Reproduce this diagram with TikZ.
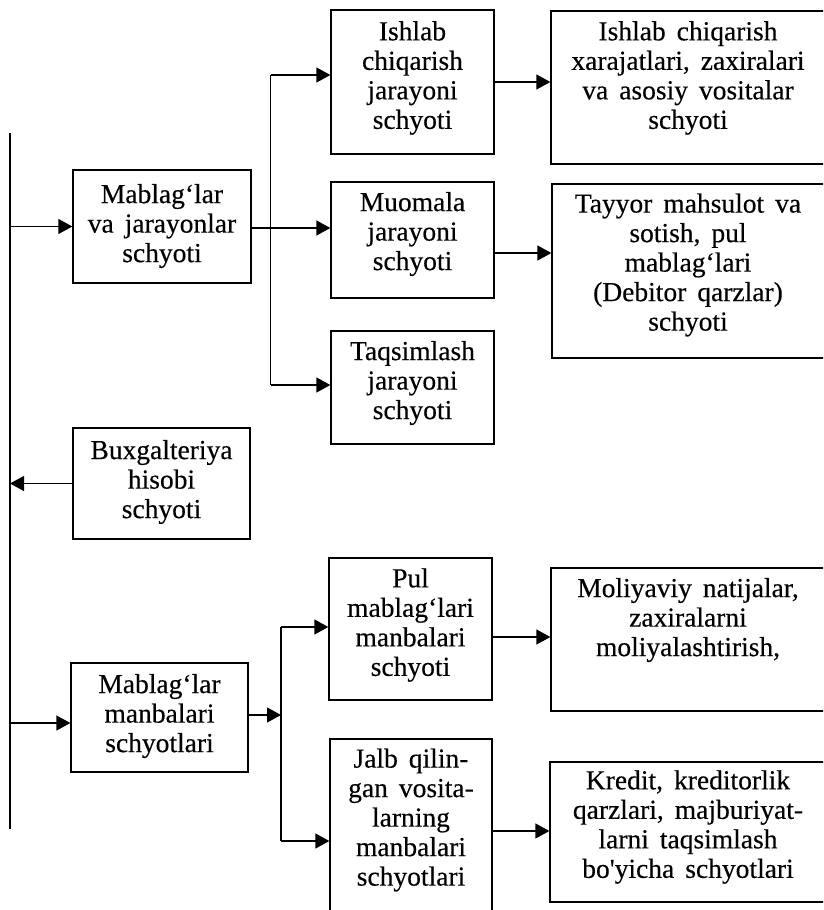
\documentclass[tikz,border=0pt]{standalone}
\usepackage{fontspec}
\setmainfont{Liberation Serif}[WordSpace=1.6,FakeBold=0.35]
\usetikzlibrary{arrows.meta}
\begin{document}
\begin{tikzpicture}[x=1pt,y=-1pt,
  line width=1.3pt,
  box/.style={draw, rectangle, inner sep=0pt},
  txt/.style={align=center, inner sep=0pt, font=\fontsize{27.5}{29.5}\selectfont},
  arr/.style={-{Triangle[length=14pt,width=15pt]}}]
\useasboundingbox (0,0) rectangle (823,910);
\clip (0,0) rectangle (823,910);

% boxes
\node[box, minimum width=178pt, minimum height=113pt] (a)  at (162,226.5) {};
\node[box, minimum width=163pt, minimum height=144pt] (b1) at (412.5,82) {};
\node[box, minimum width=275pt, minimum height=153pt] (c1) at (688.5,87.5) {};
\node[box, minimum width=163pt, minimum height=116pt] (b2) at (412.5,240) {};
\node[box, minimum width=274pt, minimum height=174pt] (c2) at (689,271) {};
\node[box, minimum width=163pt, minimum height=113pt] (b3) at (412.5,387.5) {};
\node[box, minimum width=177pt, minimum height=111pt] (d)  at (161.5,483.5) {};
\node[box, minimum width=177pt, minimum height=109pt] (e)  at (159.5,717.5) {};
\node[box, minimum width=163pt, minimum height=142pt] (f1) at (410.5,629) {};
\node[box, minimum width=275pt, minimum height=143pt] (g1) at (688.5,639.5) {};
\node[box, minimum width=162pt, minimum height=186pt] (f2) at (411,832) {};
\node[box, minimum width=276pt, minimum height=140pt] (g2) at (688,832) {};

% texts
\node[txt] (at)  at (162,226)  {Mablag‘lar\\va jarayonlar\\schyoti};
\node[txt] (b1t) at (412.5,78) {Ishlab\\chiqarish\\jarayoni\\schyoti};
\node[txt] (c1t) at (688,78)   {Ishlab chiqarish\\xarajatlari, zaxiralari\\va asosiy vositalar\\schyoti};
\node[txt] (b2t) at (412.5,234) {Muomala\\jarayoni\\schyoti};
\node[txt] (c2t) at (688,265)  {Tayyor mahsulot va\\sotish, pul\\mablag‘lari\\(Debitor qarzlar)\\schyoti};
\node[txt] (b3t) at (412.5,383) {Taqsimlash\\jarayoni\\schyoti};
\node[txt] (dt)  at (161.5,482) {Buxgalteriya\\hisobi\\schyoti};
\node[txt] (et)  at (159.5,716) {Mablag‘lar\\manbalari\\schyotlari};
\node[txt] (f1t) at (410.5,625) {Pul\\mablag‘lari\\manbalari\\schyoti};
\node[txt] (g1t) at (688,620)  {Moliyaviy natijalar,\\zaxiralarni\\moliyalashtirish,};
\node[txt] (f2t) at (411,820)  {Jalb qilin-\\gan vosita-\\larning\\manbalari\\schyotlari};
\node[txt] (g2t) at (688,827)  {Kredit, kreditorlik\\qarzlari, majburiyat-\\larni taqsimlash\\bo\textquotesingle yicha schyotlari};

% main vertical line on the left
\coordinate (lt) at (10,133);
\coordinate (lb) at (10,829);
\draw (lt) -- (lb);

% branch rails
\coordinate (r1t) at (270.5,75);
\coordinate (r1b) at (270.5,385);
\coordinate (r2t) at (281,627);
\coordinate (r2b) at (281,841);
\draw (r1t) -- (r1b);
\draw (r2t) -- (r2b);

% helper levels
\coordinate (ya)  at (0,228);
\coordinate (yc2) at (0,253);
\coordinate (ye)  at (0,723);
\coordinate (yej) at (0,715);
\coordinate (yg1) at (0,637);
\coordinate (yg2) at (0,831);

% connectors
\draw[arr] (a.west -| lt) -- (a.west);
\draw (a.east |- ya) -- (r1b |- ya);
\draw[arr] (r1b |- ya) -- (b2.west |- ya);
\draw[arr] (r1t) -- (r1t -| b1.west);
\draw[arr] (r1b) -- (r1b -| b3.west);
\draw[arr] (b1.east) -- (b1.east -| c1.west);
\draw[arr] (b2.east |- yc2) -- (c2.west |- yc2);
\draw[arr] (d.west) -- (d.west -| lt);
\draw[arr] (lt |- ye) -- (e.west |- ye);
\draw[arr] (e.east |- yej) -- (r2t |- yej);
\draw[arr] (r2t) -- (r2t -| f1.west);
\draw[arr] (r2b) -- (r2b -| f2.west);
\draw[arr] (f1.east |- yg1) -- (g1.west |- yg1);
\draw[arr] (f2.east |- yg2) -- (g2.west |- yg2);
\end{tikzpicture}
\end{document}
